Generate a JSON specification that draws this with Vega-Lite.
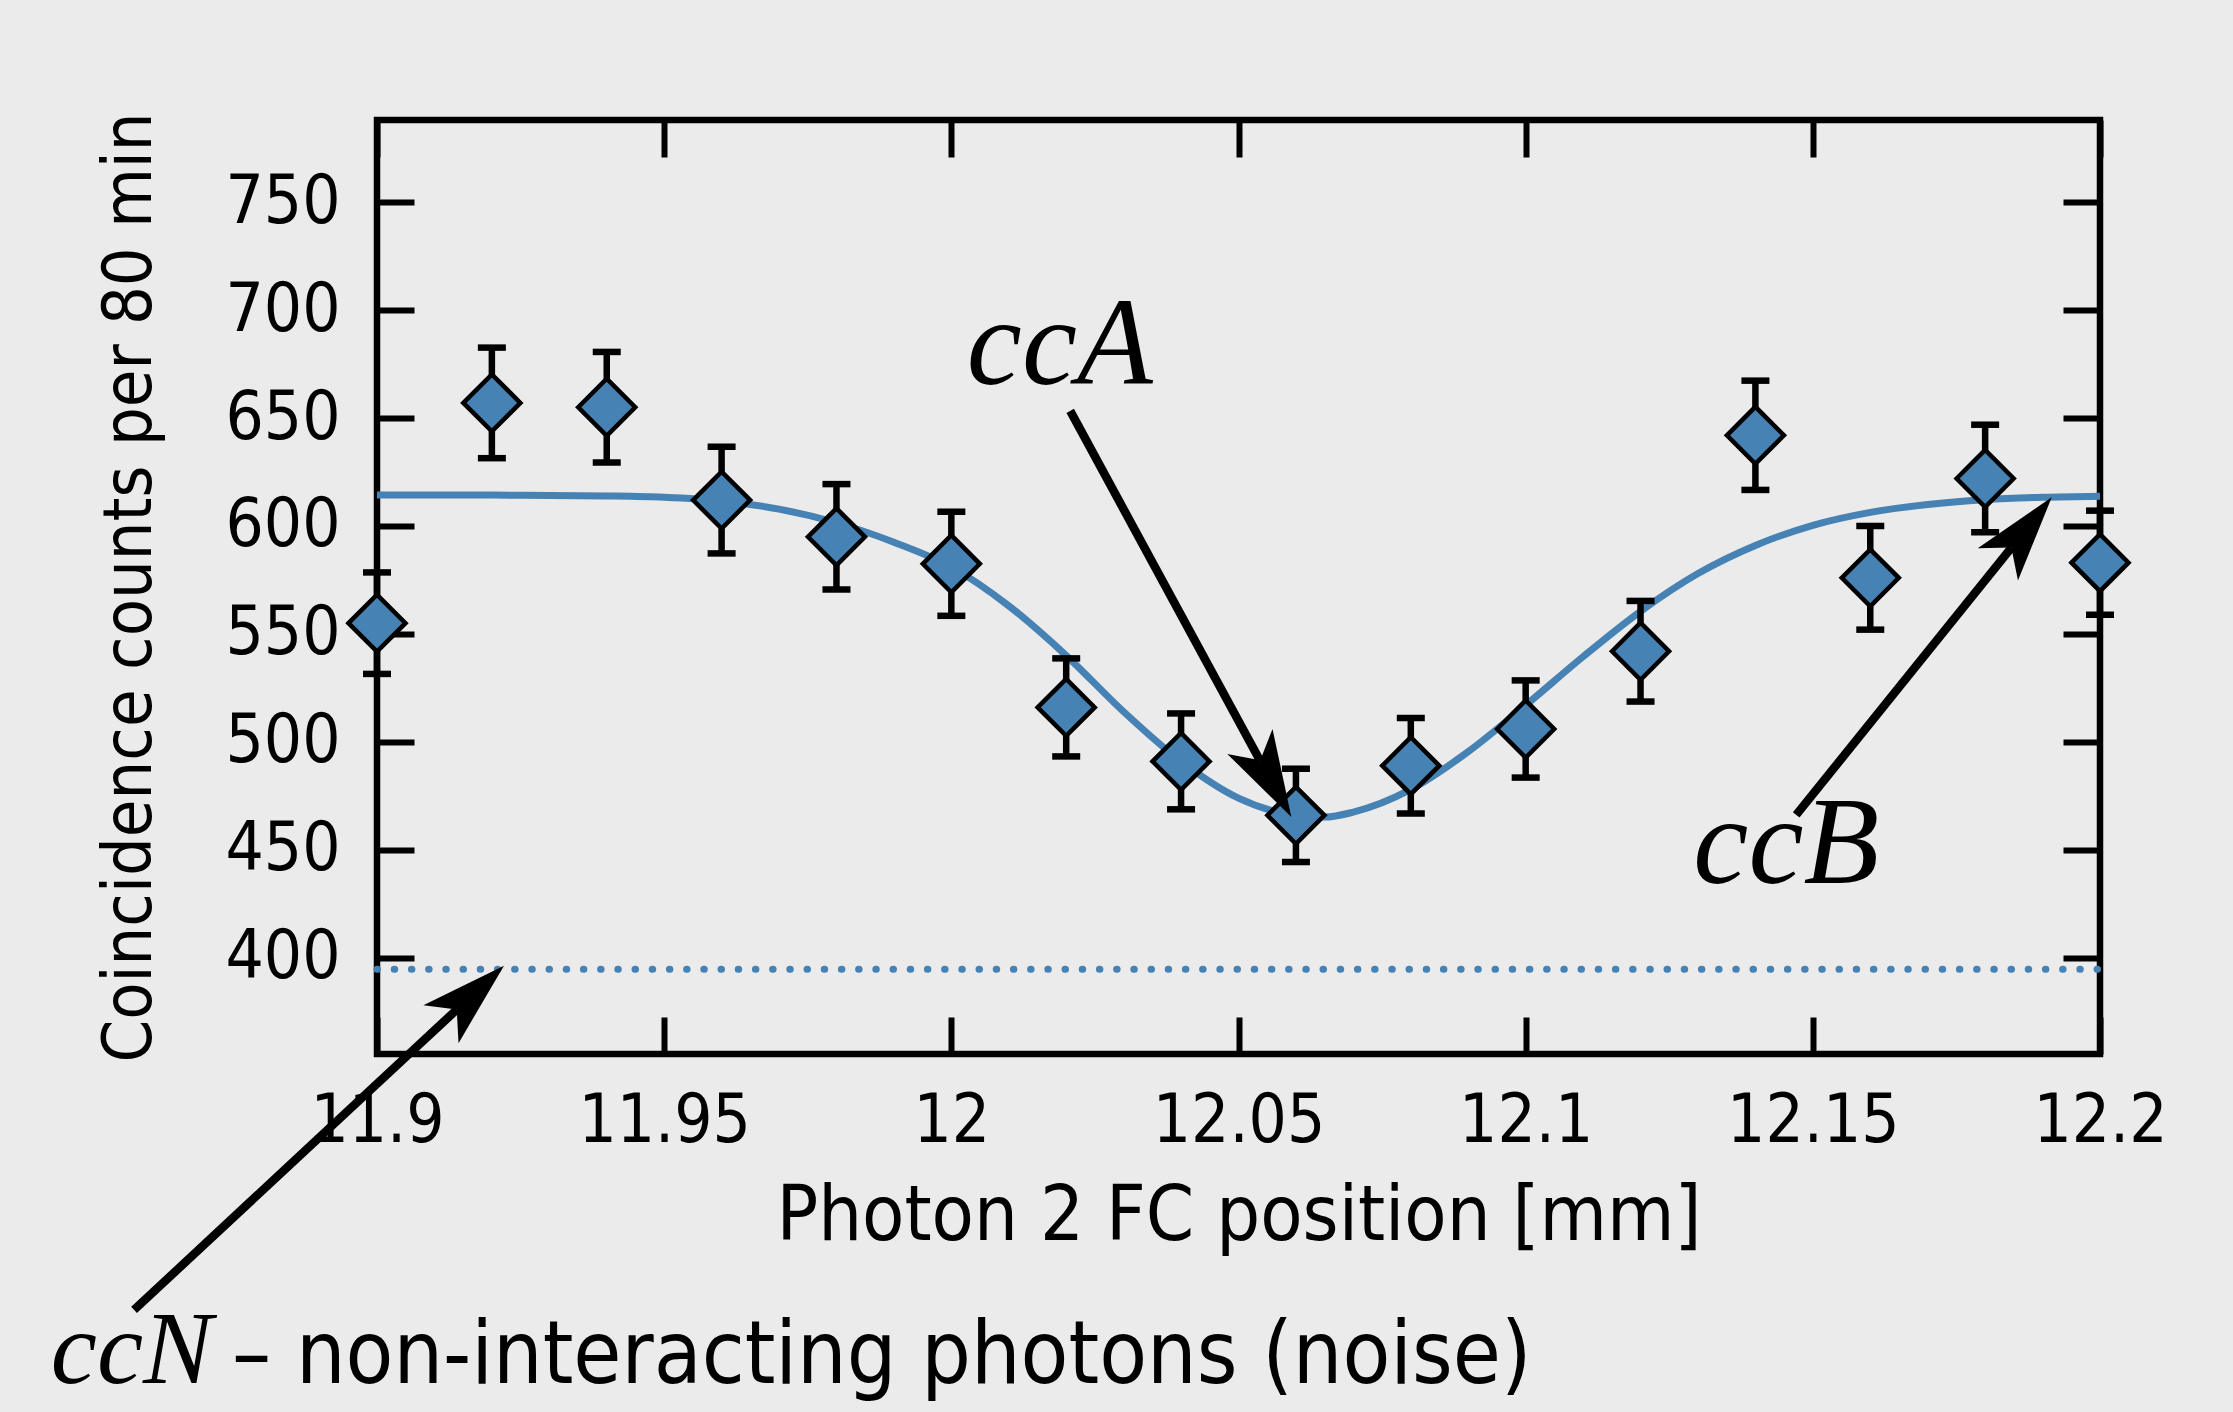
{
  "$schema": "https://vega.github.io/schema/vega-lite/v6.json",
  "width": 1723,
  "height": 934,
  "autosize": "none",
  "padding": {"left": 377, "top": 120, "right": 133, "bottom": 358},
  "background": "#ebebeb",
  "config": {
    "view": {"stroke": "black", "strokeWidth": 6.5},
    "axis": {
      "domain": false, "grid": false, "tickColor": "black", "tickWidth": 6, "tickSize": -37,
      "labelFont": "DejaVu Sans Condensed", "labelFontSize": 67, "labelColor": "black", "labelPadding": 74,
      "labelFlush": false, "labelOverlap": false,
      "titleFont": "DejaVu Sans Condensed", "titleFontWeight": "normal", "titleColor": "black"
    }
  },
  "datasets": {
    "points": [
      {"pos": 11.90, "counts": 555, "lo": 531.5, "hi": 578.5},
      {"pos": 11.92, "counts": 657, "lo": 631.4, "hi": 682.6},
      {"pos": 11.94, "counts": 655, "lo": 629.4, "hi": 680.6},
      {"pos": 11.96, "counts": 612, "lo": 587.3, "hi": 636.7},
      {"pos": 11.98, "counts": 595, "lo": 570.6, "hi": 619.4},
      {"pos": 12.00, "counts": 582.5, "lo": 558.4, "hi": 606.6},
      {"pos": 12.02, "counts": 516, "lo": 493.3, "hi": 538.7},
      {"pos": 12.04, "counts": 491, "lo": 468.8, "hi": 513.2},
      {"pos": 12.06, "counts": 466, "lo": 444.4, "hi": 487.6},
      {"pos": 12.08, "counts": 489, "lo": 466.9, "hi": 511.1},
      {"pos": 12.10, "counts": 506, "lo": 483.5, "hi": 528.5},
      {"pos": 12.12, "counts": 542, "lo": 518.7, "hi": 565.3},
      {"pos": 12.14, "counts": 642, "lo": 616.7, "hi": 667.3},
      {"pos": 12.16, "counts": 576, "lo": 552, "hi": 600},
      {"pos": 12.18, "counts": 622, "lo": 597.1, "hi": 646.9},
      {"pos": 12.20, "counts": 583, "lo": 558.9, "hi": 607.1}
    ],
    "fit": [
      {"pos": 11.90, "counts": 614.4}, {"pos": 11.92, "counts": 614.3}, {"pos": 11.94, "counts": 613.9},
      {"pos": 11.95, "counts": 613.3}, {"pos": 11.96, "counts": 611.6}, {"pos": 11.97, "counts": 607.8},
      {"pos": 11.98, "counts": 601.5}, {"pos": 11.99, "counts": 592.5}, {"pos": 12.00, "counts": 581},
      {"pos": 12.01, "counts": 563}, {"pos": 12.02, "counts": 540}, {"pos": 12.03, "counts": 514},
      {"pos": 12.04, "counts": 491}, {"pos": 12.05, "counts": 474}, {"pos": 12.06, "counts": 466},
      {"pos": 12.065, "counts": 465.2}, {"pos": 12.07, "counts": 467.5}, {"pos": 12.08, "counts": 478},
      {"pos": 12.09, "counts": 495.5}, {"pos": 12.10, "counts": 517}, {"pos": 12.11, "counts": 539.5},
      {"pos": 12.12, "counts": 560.5}, {"pos": 12.13, "counts": 578}, {"pos": 12.14, "counts": 591},
      {"pos": 12.15, "counts": 600.3}, {"pos": 12.16, "counts": 606.3}, {"pos": 12.17, "counts": 610},
      {"pos": 12.18, "counts": 612.2}, {"pos": 12.19, "counts": 613.3}, {"pos": 12.20, "counts": 613.8}
    ],
    "noise": [{"pos": 11.9, "counts": 394.7}, {"pos": 12.2, "counts": 394.7}],
    "arrows": [
      {"name": "ccA", "x": 12.0207, "y": 653.3, "nx": 12.05374, "ny": 491.4, "tx": 12.0592, "ty": 465.3, "angle": 151.2},
      {"name": "ccB", "x": 12.1471, "y": 466.2, "nx": 12.18458, "ny": 590.0, "tx": 12.1916, "ty": 613.3, "angle": 38.8},
      {"name": "ccN", "x": 11.8577, "y": 237.0, "nx": 11.9139, "ny": 376.1, "tx": 11.92211, "ty": 396.4, "angle": 47.1}
    ],
    "bigLabels": [
      {"label": "ccA", "x": 12.0027, "y": 665.8},
      {"label": "ccB", "x": 12.1292, "y": 434.5}
    ],
    "ccN": [{"label": "ccN", "x": 11.8432, "y": 203.2}],
    "caption": [{"label": "– non-interacting photons (noise)", "x": 11.87475, "y": 203.2}]
  },
  "resolve": {"axis": {"x": "independent", "y": "independent"}},
  "layer": [
    {
      "data": {"name": "noise"},
      "mark": {"type": "line", "color": "#4682b4", "strokeWidth": 7, "strokeDash": [0.5, 16.7], "strokeCap": "round"},
      "encoding": {
        "x": {"field": "pos", "type": "quantitative", "scale": {"domain": [11.9, 12.2], "nice": false, "zero": false},
              "axis": {"orient": "bottom", "values": [11.9, 11.95, 12, 12.05, 12.1, 12.15, 12.2], "format": "~g", "labelPadding": 71,
                       "title": "Photon 2 FC position [mm]", "titleFontSize": 77, "titlePadding": 24}},
        "y": {"field": "counts", "type": "quantitative", "scale": {"domain": [355.5, 788], "nice": false, "zero": false},
              "axis": {"orient": "left", "values": [400, 450, 500, 550, 600, 650, 700, 750],
                       "title": "Coincidence counts per 80 min", "titleFontSize": 68, "titlePadding": 60}}
      }
    },
    {
      "data": {"name": "fit"},
      "mark": {"type": "line", "color": "#4682b4", "strokeWidth": 7, "interpolate": "monotone"},
      "encoding": {
        "x": {"field": "pos", "type": "quantitative", "scale": {"domain": [11.9, 12.2], "nice": false, "zero": false},
              "axis": {"orient": "top", "values": [11.9, 11.95, 12, 12.05, 12.1, 12.15, 12.2], "labels": false, "title": null}},
        "y": {"field": "counts", "type": "quantitative", "scale": {"domain": [355.5, 788], "nice": false, "zero": false},
              "axis": {"orient": "right", "values": [400, 450, 500, 550, 600, 650, 700, 750], "labels": false, "title": null}}
      }
    },
    {
      "data": {"name": "points"},
      "mark": {"type": "rule", "color": "black", "strokeWidth": 6.5},
      "encoding": {
        "x": {"field": "pos", "type": "quantitative", "scale": {"domain": [11.9, 12.2], "nice": false, "zero": false}, "axis": null},
        "y": {"field": "lo", "type": "quantitative", "scale": {"domain": [355.5, 788], "nice": false, "zero": false}, "axis": null},
        "y2": {"field": "hi"}
      }
    },
    {
      "data": {"name": "points"},
      "mark": {"type": "tick", "color": "black", "orient": "horizontal", "size": 28, "thickness": 6.5, "opacity": 1},
      "encoding": {
        "x": {"field": "pos", "type": "quantitative", "scale": {"domain": [11.9, 12.2], "nice": false, "zero": false}, "axis": null},
        "y": {"field": "lo", "type": "quantitative", "scale": {"domain": [355.5, 788], "nice": false, "zero": false}, "axis": null}
      }
    },
    {
      "data": {"name": "points"},
      "mark": {"type": "tick", "color": "black", "orient": "horizontal", "size": 28, "thickness": 6.5, "opacity": 1},
      "encoding": {
        "x": {"field": "pos", "type": "quantitative", "scale": {"domain": [11.9, 12.2], "nice": false, "zero": false}, "axis": null},
        "y": {"field": "hi", "type": "quantitative", "scale": {"domain": [355.5, 788], "nice": false, "zero": false}, "axis": null}
      }
    },
    {
      "data": {"name": "points"},
      "mark": {"type": "point", "shape": "diamond", "filled": true, "fill": "#4682b4", "stroke": "black", "strokeWidth": 4.5, "size": 3250, "opacity": 1},
      "encoding": {
        "x": {"field": "pos", "type": "quantitative", "scale": {"domain": [11.9, 12.2], "nice": false, "zero": false}, "axis": null},
        "y": {"field": "counts", "type": "quantitative", "scale": {"domain": [355.5, 788], "nice": false, "zero": false}, "axis": null}
      }
    },
    {
      "data": {"name": "arrows"},
      "mark": {"type": "rule", "color": "black", "strokeWidth": 8.5},
      "encoding": {
        "x": {"field": "x", "type": "quantitative", "scale": {"domain": [11.9, 12.2], "nice": false, "zero": false}, "axis": null},
        "y": {"field": "y", "type": "quantitative", "scale": {"domain": [355.5, 788], "nice": false, "zero": false}, "axis": null},
        "x2": {"field": "nx"},
        "y2": {"field": "ny"}
      }
    },
    {
      "data": {"name": "arrows"},
      "mark": {"type": "point", "shape": "M0,0L0.6,2L0,1.5L-0.6,2Z", "filled": true, "fill": "black", "strokeWidth": 0, "size": 7400, "opacity": 1},
      "encoding": {
        "x": {"field": "tx", "type": "quantitative", "scale": {"domain": [11.9, 12.2], "nice": false, "zero": false}, "axis": null},
        "y": {"field": "ty", "type": "quantitative", "scale": {"domain": [355.5, 788], "nice": false, "zero": false}, "axis": null},
        "angle": {"field": "angle", "type": "quantitative", "scale": null}
      }
    },
    {
      "data": {"name": "bigLabels"},
      "mark": {"type": "text", "font": "Liberation Serif", "fontStyle": "italic", "fontSize": 124, "align": "left", "baseline": "alphabetic", "color": "black"},
      "encoding": {
        "x": {"field": "x", "type": "quantitative", "scale": {"domain": [11.9, 12.2], "nice": false, "zero": false}, "axis": null},
        "y": {"field": "y", "type": "quantitative", "scale": {"domain": [355.5, 788], "nice": false, "zero": false}, "axis": null},
        "text": {"field": "label"}
      }
    },
    {
      "data": {"name": "ccN"},
      "mark": {"type": "text", "font": "Liberation Serif", "fontStyle": "italic", "fontSize": 104, "align": "left", "baseline": "alphabetic", "color": "black"},
      "encoding": {
        "x": {"field": "x", "type": "quantitative", "scale": {"domain": [11.9, 12.2], "nice": false, "zero": false}, "axis": null},
        "y": {"field": "y", "type": "quantitative", "scale": {"domain": [355.5, 788], "nice": false, "zero": false}, "axis": null},
        "text": {"field": "label"}
      }
    },
    {
      "data": {"name": "caption"},
      "mark": {"type": "text", "font": "DejaVu Sans Condensed", "fontSize": 87, "align": "left", "baseline": "alphabetic", "color": "black"},
      "encoding": {
        "x": {"field": "x", "type": "quantitative", "scale": {"domain": [11.9, 12.2], "nice": false, "zero": false}, "axis": null},
        "y": {"field": "y", "type": "quantitative", "scale": {"domain": [355.5, 788], "nice": false, "zero": false}, "axis": null},
        "text": {"field": "label"}
      }
    }
  ]
}
